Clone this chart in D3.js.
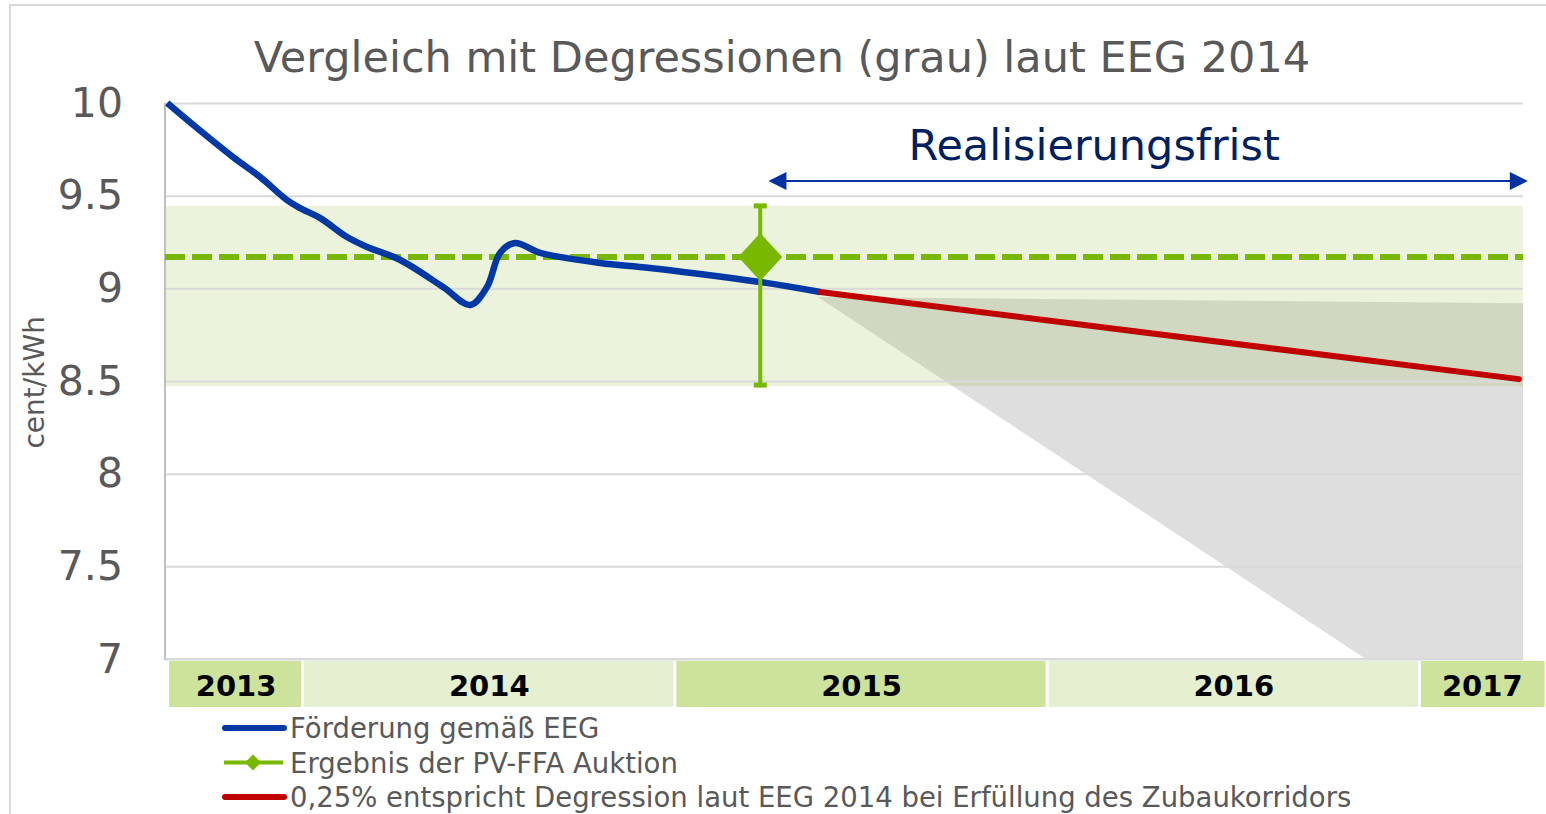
<!DOCTYPE html>
<html>
<head>
<meta charset="utf-8">
<script src="https://cdn.jsdelivr.net/npm/d3@7"></script>
<style>
  body { margin: 0; background: #fff; }
  svg { display: block; font-family: "DejaVu Sans", Verdana, sans-serif; }
</style>
</head>
<body>
<svg></svg>
<script>
// Förderung gemäß EEG: [year (decimal), cent/kWh]
var foerderung = [
    [2013.635, 10.00], [2013.715, 9.865], [2013.812, 9.708], [2013.885, 9.60],
    [2013.957, 9.476], [2013.992, 9.433], [2014.046, 9.379], [2014.118, 9.277],
    [2014.172, 9.223], [2014.261, 9.153], [2014.376, 9.007], [2014.449, 8.91],
    [2014.494, 9.007], [2014.529, 9.191], [2014.569, 9.245], [2014.637, 9.191],
    [2014.798, 9.137], [2014.932, 9.110], [2015.228, 9.034], [2015.389, 8.98]
];
// 0,25% Degression
var degression = [[2015.389, 8.98], [2017.266, 8.51]];
// grey corridor of degressions laut EEG 2014
var grauBereich = [[2015.383, 8.953], [2017.277, 8.92], [2017.277, 6.44]];
// PV-FFA auction result
var auktion = { t: 2015.228, wert: 9.169, min: 8.478, max: 9.445 };
var band = [8.473, 9.445];
var realisierung = [2015.25, 2017.29];
var years = ['2013', '2014', '2015', '2016', '2017'];
var yearSpans = [[2013.64, 2014], [2014, 2015], [2015, 2016], [2016, 2017], [2017, 2017.335]];
var yTicks = [7, 7.5, 8, 8.5, 9, 9.5, 10];
var legendLabels = [
    'Förderung gemäß EEG',
    'Ergebnis der PV-FFA Auktion',
    '0,25% entspricht Degression laut EEG 2014 bei Erfüllung des Zubaukorridors'
];

var width = 1546, height = 814;
var pLeft = 165, pRight = 1523, pTop = 103, pBottom = 659;
var blue = '#0039a6', red = '#c00000', green = '#78b800', grid = '#d9d9d9';

var svg = d3.select('svg').attr('width', width).attr('height', height);

var xScale = d3.scaleLinear().domain([2013.629, 2017.277]).range([pLeft, pRight]);
var yScale = d3.scaleLinear().domain([7, 10]).range([pBottom, pTop]);

// outer frame
svg.append('rect')
    .attr('x', 10).attr('y', 5).attr('width', 1560).attr('height', 900)
    .attr('fill', 'none').attr('stroke', grid).attr('stroke-width', 2);

svg.append('clipPath').attr('id', 'plot')
    .append('rect').attr('x', pLeft).attr('y', pTop - 4)
    .attr('width', pRight - pLeft).attr('height', pBottom - pTop + 4);

// grey degression area
svg.append('path')
    .datum(grauBereich)
    .attr('clip-path', 'url(#plot)')
    .attr('fill', '#dedede')
    .attr('d', d3.line().x(d => xScale(d[0])).y(d => yScale(d[1])));

// green band
svg.append('rect')
    .attr('x', pLeft).attr('width', pRight - pLeft)
    .attr('y', yScale(band[1])).attr('height', yScale(band[0]) - yScale(band[1]))
    .attr('fill', 'rgb(144,189,61)').attr('fill-opacity', 0.18);

// gridlines
svg.append('g')
    .attr('transform', `translate(${pLeft},0)`)
    .call(d3.axisLeft(yScale).tickValues(yTicks).tickSize(-(pRight - pLeft)).tickFormat(''))
    .call(g => g.select('.domain').remove())
    .call(g => g.selectAll('line').attr('stroke', grid).attr('stroke-width', 2));

// y axis labels
svg.append('g')
    .attr('transform', `translate(${pLeft},0)`)
    .call(d3.axisLeft(yScale).tickValues(yTicks).tickSize(0).tickPadding(42).tickFormat(d => String(d)))
    .call(g => g.select('.domain').remove())
    .call(g => g.selectAll('text')
        .attr('font-family', '"DejaVu Sans", Verdana, sans-serif')
        .attr('font-size', 41).attr('fill', '#595959'));

// axis lines
svg.append('line').attr('x1', pLeft).attr('x2', pLeft).attr('y1', pTop).attr('y2', pBottom + 1)
    .attr('stroke', '#bfbfbf').attr('stroke-width', 2);
svg.append('line').attr('x1', pLeft).attr('x2', pRight).attr('y1', pBottom).attr('y2', pBottom)
    .attr('stroke', grid).attr('stroke-width', 2);

svg.append('text')
    .attr('transform', `translate(44,${(yScale(8.5) + yScale(8)) / 2 - 45}) rotate(-90)`)
    .attr('text-anchor', 'middle')
    .attr('font-size', 28).attr('fill', '#595959')
    .text('cent/kWh');

// dashed auction level
svg.append('line')
    .attr('x1', pLeft).attr('x2', pRight)
    .attr('y1', yScale(auktion.wert)).attr('y2', yScale(auktion.wert))
    .attr('stroke', green).attr('stroke-width', 6).attr('stroke-dasharray', '20 7');

var line = d3.line().x(d => xScale(d[0])).y(d => yScale(d[1]));

svg.append('path')
    .datum(foerderung)
    .attr('clip-path', 'url(#plot)')
    .attr('fill', 'none').attr('stroke', blue).attr('stroke-width', 6.5)
    .attr('stroke-linejoin', 'round')
    .attr('d', line.curve(d3.curveCatmullRom.alpha(0.5)));

svg.append('path')
    .datum(degression)
    .attr('fill', 'none').attr('stroke', red).attr('stroke-width', 6)
    .attr('stroke-linecap', 'round')
    .attr('d', d3.line().x(d => xScale(d[0])).y(d => yScale(d[1])));

// error bar + diamond
var ax = xScale(auktion.t);
svg.append('line').attr('x1', ax).attr('x2', ax)
    .attr('y1', yScale(auktion.max)).attr('y2', yScale(auktion.min))
    .attr('stroke', green).attr('stroke-width', 4);
[auktion.min, auktion.max].forEach(v => {
    svg.append('line').attr('x1', ax - 6.5).attr('x2', ax + 6.5)
        .attr('y1', yScale(v)).attr('y2', yScale(v))
        .attr('stroke', green).attr('stroke-width', 5);
});
svg.append('path')
    .attr('transform', `translate(${ax},${yScale(auktion.wert)})`)
    .attr('d', 'M0,-24L22,0L0,24L-22,0Z')
    .attr('fill', green);

// Realisierungsfrist arrow
var ay = 181;
var ax1 = xScale(realisierung[0]), ax2 = xScale(realisierung[1]);
svg.append('line').attr('x1', ax1 + 10).attr('x2', ax2 - 10).attr('y1', ay).attr('y2', ay)
    .attr('stroke', '#0033a0').attr('stroke-width', 2);
svg.append('path').attr('fill', '#0033a0')
    .attr('d', `M${ax1},${ay}L${ax1 + 18},${ay - 9}L${ax1 + 18},${ay + 9}Z`);
svg.append('path').attr('fill', '#0033a0')
    .attr('d', `M${ax2},${ay}L${ax2 - 18},${ay - 9}L${ax2 - 18},${ay + 9}Z`);
svg.append('text')
    .attr('x', (ax1 + ax2) / 2 - 54).attr('y', 160)
    .attr('text-anchor', 'middle')
    .attr('font-size', 43).attr('fill', '#002060')
    .text('Realisierungsfrist');

// title
svg.append('text')
    .attr('x', 782).attr('y', 72)
    .attr('text-anchor', 'middle')
    .attr('font-size', 43).attr('fill', '#595959')
    .text('Vergleich mit Degressionen (grau) laut EEG 2014');

// year boxes
var yb = svg.append('g');
yb.selectAll('rect')
    .data(years)
    .enter().append('rect')
    .attr('x', (d, i) => xScale(yearSpans[i][0]) + (i == 0 ? 0 : 1))
    .attr('width', (d, i) => xScale(yearSpans[i][1]) - xScale(yearSpans[i][0]) - (i == 0 ? 2 : 3) + (i == 4 ? 2 : 0))
    .attr('y', 661).attr('height', 46)
    .attr('fill', (d, i) => i % 2 == 0 ? '#cde39c' : '#e4f0d0');
yb.selectAll('text')
    .data(years)
    .enter().append('text')
    .attr('x', (d, i) => (xScale(yearSpans[i][0]) + xScale(yearSpans[i][1])) / 2)
    .attr('y', 696)
    .attr('text-anchor', 'middle')
    .attr('font-size', 29).attr('font-weight', 'bold').attr('fill', '#000')
    .text(d => d);

// legend
var lg = svg.append('g').attr('transform', 'translate(222,728)');
var legendColors = [blue, green, red];
legendLabels.forEach((label, i) => {
    var g = lg.append('g').attr('transform', `translate(0,${i * 34.5})`);
    if (i == 1) {
        g.append('line').attr('x1', 2).attr('x2', 61).attr('stroke', green).attr('stroke-width', 4);
        g.append('path').attr('d', 'M31,-8L39,0L31,8L23,0Z').attr('fill', green);
    } else {
        g.append('line').attr('x1', 3).attr('x2', 62).attr('stroke', legendColors[i])
            .attr('stroke-width', 6).attr('stroke-linecap', 'round');
    }
    g.append('text').attr('x', 68).attr('y', 10)
        .attr('font-size', 27.5).attr('fill', '#595959')
        .text(label);
});
</script>
</body>
</html>
